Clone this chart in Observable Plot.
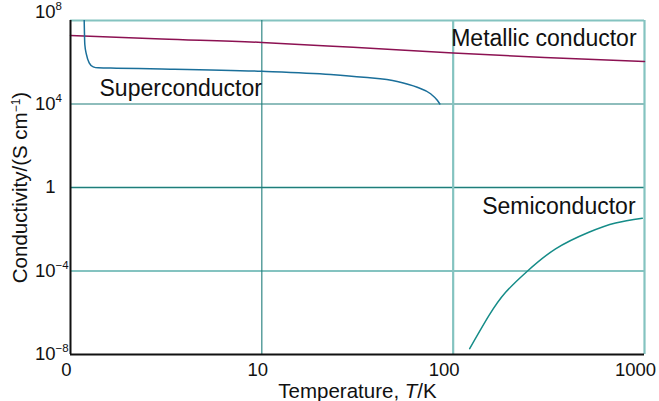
<!DOCTYPE html>
<html><head><meta charset="utf-8">
<script src="https://cdn.jsdelivr.net/npm/d3@7"></script>
<script src="https://cdn.jsdelivr.net/npm/@observablehq/plot@0.6"></script>
<style>
body{margin:0;background:#fff;}
#chart svg{display:block;}
</style></head><body><div id="chart"></div>
<script>
// Data (T in K, conductivity in S cm^-1)
const metalT = [1, 3, 10, 30, 100, 300, 1000];
const metalSigma = [1.9e7, 1.3e7, 8.9e6, 5.2e6, 2.8e6, 1.7e6, 1.1e6];

const superT = [1.179, 1.188, 1.212, 1.252, 1.314, 1.396, 1.74, 3, 10, 22.9, 34.1, 51, 64.9, 76.2, 82.6, 85.2];
const superSigma = [1.12e8, 7.1e6, 2.3e6, 9.3e5, 6.0e5, 5.4e5, 5.2e5, 4.8e5, 3.7e5, 2.6e5, 1.9e5, 1.2e5, 6.3e4, 3.1e4, 1.5e4, 1.0e4];

const semiT = [122, 154, 188, 244, 343, 512, 706, 974];
const semiSigma = [1.9e-8, 7.4e-7, 9.5e-6, 9.8e-5, 1.15e-3, 7.2e-3, 2.0e-2, 3.4e-2];

// Curve labels (anchored in data units)
const labelText = ["Metallic conductor", "Superconductor", "Semiconductor"];
const labelT = [909, 1.418, 898];
const labelSigma = [1.35e7, 5.5e4, 0.123];

// Ticks
const xTicks = [1, 10, 100, 1000];
const xTickLabels = ["0", "10", "100", "1000"];
const yTicks = [1e-8, 1e-4, 1, 1e4, 1e8];
const yTickBase = ["10", "10", "1", "10", "10"];
const yTickExp = ["\u22128", "\u22124", "", "4", "8"];

const xTitle = "Temperature, T/K";
const yTitle = "Conductivity/(S cm\u22121)";

const rows = (xs, ys) => xs.map((x, i) => ({x, y: ys[i]}));
const metal = rows(metalT, metalSigma);
const sup = rows(superT, superSigma);
const semi = rows(semiT, semiSigma);
const labels = labelText.map((t, i) => ({t, x: labelT[i], y: labelSigma[i]}));
const xt = xTicks.map((v, i) => ({v, s: xTickLabels[i]}));
const yt = yTicks.map((v, i) => ({v, b: yTickBase[i], e: yTickExp[i]}));

const light = "#84c3c0";
const dark = "#1f7d7a";

const chart = Plot.plot({
  width: 659, height: 401,
  marginLeft: 70, marginRight: 15, marginTop: 20, marginBottom: 47,
  x: {type: "log", domain: [1, 1000], axis: null},
  y: {type: "log", domain: [1e-8, 1e8], axis: null},
  style: {fontFamily: "'Liberation Sans', Arial, sans-serif", fontSize: "18.5px", color: "#111", background: "#fff", overflow: "visible"},
  marks: [
    // grid
    Plot.ruleY([1e-4, 1, 1e8], {stroke: light, strokeWidth: 2.2}),
    Plot.ruleY([1e4, 1], {stroke: dark, strokeWidth: 1.1}),
    Plot.ruleX([100, 1000], {stroke: light, strokeWidth: 2.2}),
    Plot.ruleX([10], {stroke: dark, strokeWidth: 1.1}),
    // curves
    Plot.line(metal, {x: "x", y: "y", stroke: "#8c1152", strokeWidth: 1.5, curve: "monotone-x"}),
    Plot.line(sup, {x: "x", y: "y", stroke: "#1a6f9a", strokeWidth: 1.5, curve: "monotone-x", clip: true}),
    Plot.line(semi, {x: "x", y: "y", stroke: "#158c88", strokeWidth: 1.5, curve: "natural"}),
    // axes lines
    Plot.ruleX([1], {stroke: "#111", strokeWidth: 2}),
    Plot.ruleY([1e-8], {stroke: "#111", strokeWidth: 2}),
    // curve labels
    Plot.text(labels.filter(d => d.t !== "Superconductor"), {x: "x", y: "y", text: "t", textAnchor: "end", fontSize: 23, fill: "#111"}),
    Plot.text(labels.filter(d => d.t === "Superconductor"), {x: "x", y: "y", text: "t", textAnchor: "start", fontSize: 23, fill: "#111"}),
    // x tick labels
    Plot.text(xt.filter(d => d.v < 100), {x: "v", text: "s", frameAnchor: "bottom", lineAnchor: "middle", dy: 16, dx: -4, fill: "#111"}),
    Plot.text(xt.filter(d => d.v >= 100), {x: "v", text: "s", frameAnchor: "bottom", lineAnchor: "middle", dy: 16, dx: -9, fill: "#111"}),
    // y tick labels
    Plot.text(yt.filter(d => d.v < 1e8), {y: "v", text: "b", frameAnchor: "left", dx: -15, textAnchor: "end", fill: "#111"}),
    Plot.text(yt.filter(d => d.v < 1e8), {y: "v", text: "e", frameAnchor: "left", dx: -15, dy: -6, textAnchor: "start", fontSize: 11.5, fill: "#111"}),
    Plot.text(yt.filter(d => d.v >= 1e8), {y: "v", text: "b", frameAnchor: "left", dx: -15, dy: -8, textAnchor: "end", fill: "#111"}),
    Plot.text(yt.filter(d => d.v >= 1e8), {y: "v", text: "e", frameAnchor: "left", dx: -15, dy: -14, textAnchor: "start", fontSize: 11.5, fill: "#111"}),
    // axis titles
    Plot.text([xTitle], {text: d => d, frameAnchor: "bottom", lineAnchor: "middle", dy: 37, fontSize: 20.5, fill: "#111"}),
    Plot.text([yTitle], {text: d => d, frameAnchor: "left", textAnchor: "middle", lineAnchor: "middle", dx: -50, rotate: -90, fontSize: 20.5, fill: "#111"})
  ]
});

document.getElementById("chart").appendChild(chart);

// Rich text: italic T and superscript in titles
chart.querySelectorAll("text").forEach(t => {
  const s = t.textContent;
  if (s === xTitle) {
    t.textContent = "";
    const a = document.createElementNS("http://www.w3.org/2000/svg", "tspan"); a.textContent = "Temperature, ";
    const b = document.createElementNS("http://www.w3.org/2000/svg", "tspan"); b.textContent = "T"; b.setAttribute("font-style", "italic");
    const c = document.createElementNS("http://www.w3.org/2000/svg", "tspan"); c.textContent = "/K";
    t.append(a, b, c);
  } else if (s === yTitle) {
    t.textContent = "";
    const a = document.createElementNS("http://www.w3.org/2000/svg", "tspan"); a.textContent = "Conductivity/(S cm";
    const b = document.createElementNS("http://www.w3.org/2000/svg", "tspan"); b.textContent = "\u22121"; b.setAttribute("font-size", "12"); b.setAttribute("dy", "-7");
    const c = document.createElementNS("http://www.w3.org/2000/svg", "tspan"); c.textContent = ")"; c.setAttribute("dy", "7");
    t.append(a, b, c);
  }
});
</script></body></html>
